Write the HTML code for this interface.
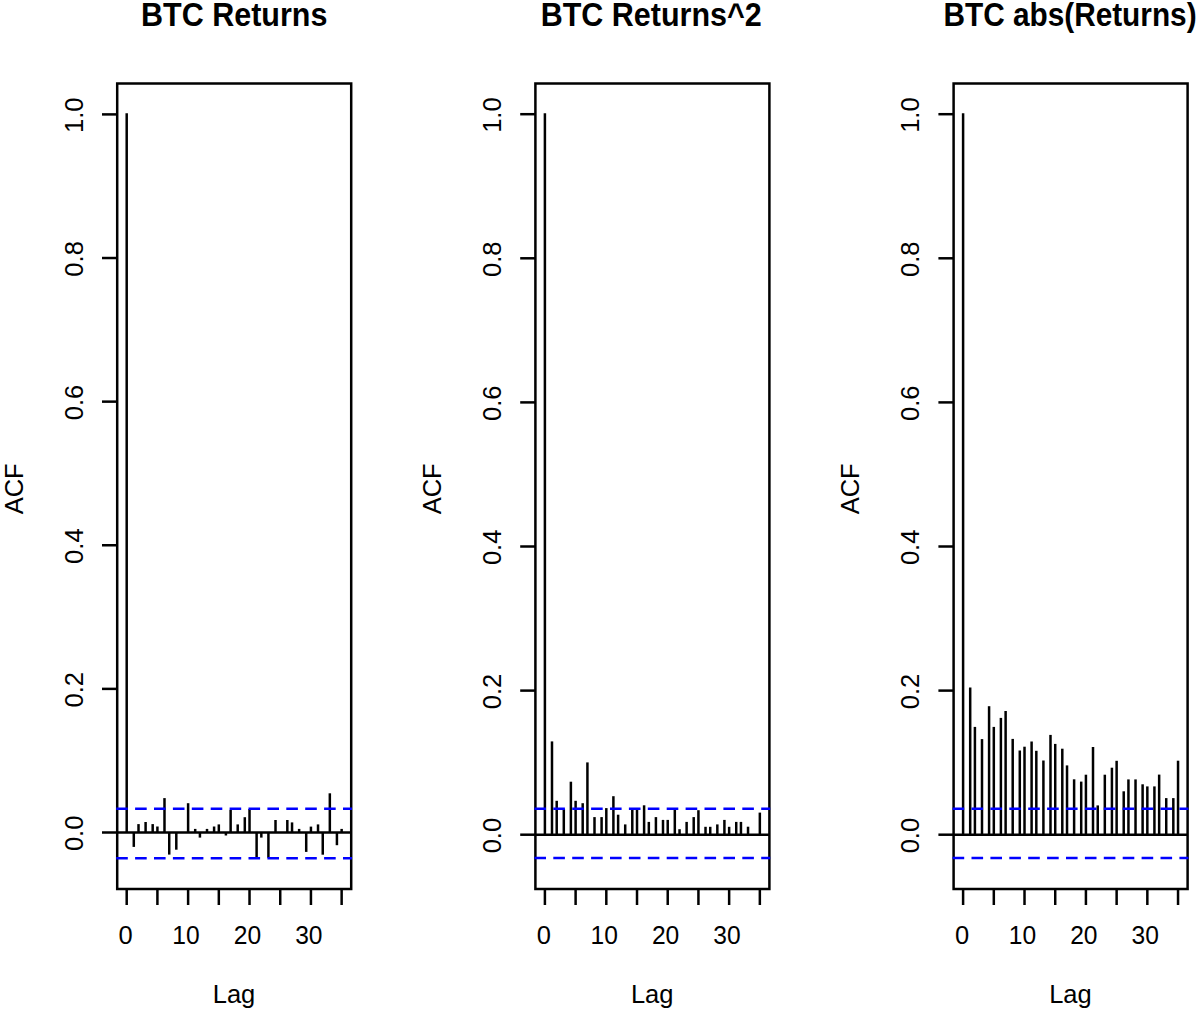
<!DOCTYPE html>
<html><head><meta charset="utf-8"><style>
html,body{margin:0;padding:0;background:#fff;}
body{width:1200px;height:1011px;overflow:hidden;}
svg{display:block;}
.t{font-family:"Liberation Sans",sans-serif;font-weight:bold;font-size:30.5px;fill:#000;}
.a{font-family:"Liberation Sans",sans-serif;font-size:25.5px;fill:#000;}
</style></head><body>
<svg width="1200" height="1011" viewBox="0 0 1200 1011">
<rect width="1200" height="1011" fill="#fff"/>
<g>
<text class="t" transform="translate(234.20,25.6) scale(1.0,1.09)" text-anchor="middle">BTC Returns</text>
<rect x="117.20" y="83.50" width="234.00" height="805.50" fill="none" stroke="#000" stroke-width="2.5"/>
<line x1="102.00" y1="832.50" x2="117.20" y2="832.50" stroke="#000" stroke-width="2.5"/>
<text class="a" transform="translate(82.50,833.40) rotate(-90)" text-anchor="middle">0.0</text>
<line x1="102.00" y1="688.88" x2="117.20" y2="688.88" stroke="#000" stroke-width="2.5"/>
<text class="a" transform="translate(82.50,689.78) rotate(-90)" text-anchor="middle">0.2</text>
<line x1="102.00" y1="545.26" x2="117.20" y2="545.26" stroke="#000" stroke-width="2.5"/>
<text class="a" transform="translate(82.50,546.16) rotate(-90)" text-anchor="middle">0.4</text>
<line x1="102.00" y1="401.64" x2="117.20" y2="401.64" stroke="#000" stroke-width="2.5"/>
<text class="a" transform="translate(82.50,402.54) rotate(-90)" text-anchor="middle">0.6</text>
<line x1="102.00" y1="258.02" x2="117.20" y2="258.02" stroke="#000" stroke-width="2.5"/>
<text class="a" transform="translate(82.50,258.92) rotate(-90)" text-anchor="middle">0.8</text>
<line x1="102.00" y1="114.40" x2="117.20" y2="114.40" stroke="#000" stroke-width="2.5"/>
<text class="a" transform="translate(82.50,115.30) rotate(-90)" text-anchor="middle">1.0</text>
<text class="a" transform="translate(23.00,488.80) rotate(-90)" text-anchor="middle">ACF</text>
<line x1="126.70" y1="889.00" x2="126.70" y2="905.00" stroke="#000" stroke-width="2.5"/>
<line x1="157.41" y1="889.00" x2="157.41" y2="905.00" stroke="#000" stroke-width="2.5"/>
<line x1="188.11" y1="889.00" x2="188.11" y2="905.00" stroke="#000" stroke-width="2.5"/>
<line x1="218.82" y1="889.00" x2="218.82" y2="905.00" stroke="#000" stroke-width="2.5"/>
<line x1="249.52" y1="889.00" x2="249.52" y2="905.00" stroke="#000" stroke-width="2.5"/>
<line x1="280.23" y1="889.00" x2="280.23" y2="905.00" stroke="#000" stroke-width="2.5"/>
<line x1="310.94" y1="889.00" x2="310.94" y2="905.00" stroke="#000" stroke-width="2.5"/>
<line x1="341.64" y1="889.00" x2="341.64" y2="905.00" stroke="#000" stroke-width="2.5"/>
<text class="a" x="125.70" y="943.5" text-anchor="middle">0</text>
<text class="a" transform="translate(186.01,943.5) scale(0.965,1)" text-anchor="middle">10</text>
<text class="a" transform="translate(247.42,943.5) scale(0.965,1)" text-anchor="middle">20</text>
<text class="a" transform="translate(308.84,943.5) scale(0.965,1)" text-anchor="middle">30</text>
<text class="a" x="234.00" y="1003.3" text-anchor="middle">Lag</text>
<line x1="126.70" y1="832.50" x2="126.70" y2="113.20" stroke="#000" stroke-width="2.5"/>
<line x1="133.79" y1="832.50" x2="133.79" y2="846.90" stroke="#000" stroke-width="2.5"/>
<line x1="138.51" y1="832.50" x2="138.51" y2="824.10" stroke="#000" stroke-width="2.5"/>
<line x1="145.60" y1="832.50" x2="145.60" y2="822.00" stroke="#000" stroke-width="2.5"/>
<line x1="152.68" y1="832.50" x2="152.68" y2="824.10" stroke="#000" stroke-width="2.5"/>
<line x1="157.41" y1="832.50" x2="157.41" y2="826.50" stroke="#000" stroke-width="2.5"/>
<line x1="164.49" y1="832.50" x2="164.49" y2="798.10" stroke="#000" stroke-width="2.5"/>
<line x1="169.22" y1="832.50" x2="169.22" y2="854.60" stroke="#000" stroke-width="2.5"/>
<line x1="176.30" y1="832.50" x2="176.30" y2="849.70" stroke="#000" stroke-width="2.5"/>
<line x1="188.11" y1="832.50" x2="188.11" y2="803.20" stroke="#000" stroke-width="2.5"/>
<line x1="195.20" y1="832.50" x2="195.20" y2="828.90" stroke="#000" stroke-width="2.5"/>
<line x1="199.92" y1="832.50" x2="199.92" y2="837.60" stroke="#000" stroke-width="2.5"/>
<line x1="207.01" y1="832.50" x2="207.01" y2="828.90" stroke="#000" stroke-width="2.5"/>
<line x1="214.09" y1="832.50" x2="214.09" y2="826.50" stroke="#000" stroke-width="2.5"/>
<line x1="218.82" y1="832.50" x2="218.82" y2="824.40" stroke="#000" stroke-width="2.5"/>
<line x1="225.90" y1="832.50" x2="225.90" y2="835.50" stroke="#000" stroke-width="2.5"/>
<line x1="230.63" y1="832.50" x2="230.63" y2="809.90" stroke="#000" stroke-width="2.5"/>
<line x1="237.71" y1="832.50" x2="237.71" y2="824.40" stroke="#000" stroke-width="2.5"/>
<line x1="244.80" y1="832.50" x2="244.80" y2="817.20" stroke="#000" stroke-width="2.5"/>
<line x1="249.52" y1="832.50" x2="249.52" y2="809.00" stroke="#000" stroke-width="2.5"/>
<line x1="256.61" y1="832.50" x2="256.61" y2="857.80" stroke="#000" stroke-width="2.5"/>
<line x1="261.33" y1="832.50" x2="261.33" y2="837.60" stroke="#000" stroke-width="2.5"/>
<line x1="268.42" y1="832.50" x2="268.42" y2="857.80" stroke="#000" stroke-width="2.5"/>
<line x1="275.51" y1="832.50" x2="275.51" y2="820.00" stroke="#000" stroke-width="2.5"/>
<line x1="287.32" y1="832.50" x2="287.32" y2="820.00" stroke="#000" stroke-width="2.5"/>
<line x1="292.04" y1="832.50" x2="292.04" y2="822.40" stroke="#000" stroke-width="2.5"/>
<line x1="299.13" y1="832.50" x2="299.13" y2="828.90" stroke="#000" stroke-width="2.5"/>
<line x1="306.21" y1="832.50" x2="306.21" y2="851.90" stroke="#000" stroke-width="2.5"/>
<line x1="310.94" y1="832.50" x2="310.94" y2="826.60" stroke="#000" stroke-width="2.5"/>
<line x1="318.02" y1="832.50" x2="318.02" y2="824.40" stroke="#000" stroke-width="2.5"/>
<line x1="322.75" y1="832.50" x2="322.75" y2="854.70" stroke="#000" stroke-width="2.5"/>
<line x1="329.83" y1="832.50" x2="329.83" y2="793.30" stroke="#000" stroke-width="2.5"/>
<line x1="336.92" y1="832.50" x2="336.92" y2="845.20" stroke="#000" stroke-width="2.5"/>
<line x1="341.64" y1="832.50" x2="341.64" y2="828.90" stroke="#000" stroke-width="2.5"/>
<line x1="117.20" y1="832.50" x2="351.20" y2="832.50" stroke="#000" stroke-width="2.5"/>
<path d="M116.20 808.80H127.80 M135.10 808.80H146.70 M154.00 808.80H165.60 M172.90 808.80H184.50 M191.80 808.80H203.40 M210.70 808.80H222.30 M229.60 808.80H241.20 M248.50 808.80H260.10 M267.40 808.80H279.00 M286.30 808.80H297.90 M305.20 808.80H316.80 M324.10 808.80H335.70 M343.00 808.80H352.00" stroke="#0000ff" stroke-width="2.5" fill="none"/>
<path d="M116.20 858.20H127.80 M135.10 858.20H146.70 M154.00 858.20H165.60 M172.90 858.20H184.50 M191.80 858.20H203.40 M210.70 858.20H222.30 M229.60 858.20H241.20 M248.50 858.20H260.10 M267.40 858.20H279.00 M286.30 858.20H297.90 M305.20 858.20H316.80 M324.10 858.20H335.70 M343.00 858.20H352.00" stroke="#0000ff" stroke-width="2.5" fill="none"/>
</g>
<g>
<text class="t" transform="translate(651.20,25.6) scale(1.0,1.09)" text-anchor="middle">BTC Returns^2</text>
<rect x="535.40" y="83.50" width="234.00" height="805.50" fill="none" stroke="#000" stroke-width="2.5"/>
<line x1="520.20" y1="834.70" x2="535.40" y2="834.70" stroke="#000" stroke-width="2.5"/>
<text class="a" transform="translate(500.70,835.60) rotate(-90)" text-anchor="middle">0.0</text>
<line x1="520.20" y1="690.60" x2="535.40" y2="690.60" stroke="#000" stroke-width="2.5"/>
<text class="a" transform="translate(500.70,691.50) rotate(-90)" text-anchor="middle">0.2</text>
<line x1="520.20" y1="546.50" x2="535.40" y2="546.50" stroke="#000" stroke-width="2.5"/>
<text class="a" transform="translate(500.70,547.40) rotate(-90)" text-anchor="middle">0.4</text>
<line x1="520.20" y1="402.40" x2="535.40" y2="402.40" stroke="#000" stroke-width="2.5"/>
<text class="a" transform="translate(500.70,403.30) rotate(-90)" text-anchor="middle">0.6</text>
<line x1="520.20" y1="258.30" x2="535.40" y2="258.30" stroke="#000" stroke-width="2.5"/>
<text class="a" transform="translate(500.70,259.20) rotate(-90)" text-anchor="middle">0.8</text>
<line x1="520.20" y1="114.20" x2="535.40" y2="114.20" stroke="#000" stroke-width="2.5"/>
<text class="a" transform="translate(500.70,115.10) rotate(-90)" text-anchor="middle">1.0</text>
<text class="a" transform="translate(441.20,488.80) rotate(-90)" text-anchor="middle">ACF</text>
<line x1="544.90" y1="889.00" x2="544.90" y2="905.00" stroke="#000" stroke-width="2.5"/>
<line x1="575.61" y1="889.00" x2="575.61" y2="905.00" stroke="#000" stroke-width="2.5"/>
<line x1="606.31" y1="889.00" x2="606.31" y2="905.00" stroke="#000" stroke-width="2.5"/>
<line x1="637.02" y1="889.00" x2="637.02" y2="905.00" stroke="#000" stroke-width="2.5"/>
<line x1="667.72" y1="889.00" x2="667.72" y2="905.00" stroke="#000" stroke-width="2.5"/>
<line x1="698.43" y1="889.00" x2="698.43" y2="905.00" stroke="#000" stroke-width="2.5"/>
<line x1="729.14" y1="889.00" x2="729.14" y2="905.00" stroke="#000" stroke-width="2.5"/>
<line x1="759.84" y1="889.00" x2="759.84" y2="905.00" stroke="#000" stroke-width="2.5"/>
<text class="a" x="543.90" y="943.5" text-anchor="middle">0</text>
<text class="a" transform="translate(604.21,943.5) scale(0.965,1)" text-anchor="middle">10</text>
<text class="a" transform="translate(665.62,943.5) scale(0.965,1)" text-anchor="middle">20</text>
<text class="a" transform="translate(727.04,943.5) scale(0.965,1)" text-anchor="middle">30</text>
<text class="a" x="652.20" y="1003.3" text-anchor="middle">Lag</text>
<line x1="544.90" y1="834.70" x2="544.90" y2="113.20" stroke="#000" stroke-width="2.5"/>
<line x1="551.99" y1="834.70" x2="551.99" y2="741.40" stroke="#000" stroke-width="2.5"/>
<line x1="556.71" y1="834.70" x2="556.71" y2="800.80" stroke="#000" stroke-width="2.5"/>
<line x1="563.80" y1="834.70" x2="563.80" y2="808.90" stroke="#000" stroke-width="2.5"/>
<line x1="570.88" y1="834.70" x2="570.88" y2="781.70" stroke="#000" stroke-width="2.5"/>
<line x1="575.61" y1="834.70" x2="575.61" y2="800.80" stroke="#000" stroke-width="2.5"/>
<line x1="582.69" y1="834.70" x2="582.69" y2="803.20" stroke="#000" stroke-width="2.5"/>
<line x1="587.42" y1="834.70" x2="587.42" y2="762.40" stroke="#000" stroke-width="2.5"/>
<line x1="594.50" y1="834.70" x2="594.50" y2="817.10" stroke="#000" stroke-width="2.5"/>
<line x1="601.59" y1="834.70" x2="601.59" y2="817.10" stroke="#000" stroke-width="2.5"/>
<line x1="606.31" y1="834.70" x2="606.31" y2="808.10" stroke="#000" stroke-width="2.5"/>
<line x1="613.40" y1="834.70" x2="613.40" y2="796.20" stroke="#000" stroke-width="2.5"/>
<line x1="618.12" y1="834.70" x2="618.12" y2="814.70" stroke="#000" stroke-width="2.5"/>
<line x1="625.21" y1="834.70" x2="625.21" y2="824.40" stroke="#000" stroke-width="2.5"/>
<line x1="632.29" y1="834.70" x2="632.29" y2="809.50" stroke="#000" stroke-width="2.5"/>
<line x1="637.02" y1="834.70" x2="637.02" y2="809.50" stroke="#000" stroke-width="2.5"/>
<line x1="644.10" y1="834.70" x2="644.10" y2="805.30" stroke="#000" stroke-width="2.5"/>
<line x1="648.83" y1="834.70" x2="648.83" y2="821.90" stroke="#000" stroke-width="2.5"/>
<line x1="655.91" y1="834.70" x2="655.91" y2="817.10" stroke="#000" stroke-width="2.5"/>
<line x1="663.00" y1="834.70" x2="663.00" y2="819.90" stroke="#000" stroke-width="2.5"/>
<line x1="667.72" y1="834.70" x2="667.72" y2="819.90" stroke="#000" stroke-width="2.5"/>
<line x1="674.81" y1="834.70" x2="674.81" y2="809.50" stroke="#000" stroke-width="2.5"/>
<line x1="679.53" y1="834.70" x2="679.53" y2="829.20" stroke="#000" stroke-width="2.5"/>
<line x1="686.62" y1="834.70" x2="686.62" y2="821.90" stroke="#000" stroke-width="2.5"/>
<line x1="693.71" y1="834.70" x2="693.71" y2="817.10" stroke="#000" stroke-width="2.5"/>
<line x1="698.43" y1="834.70" x2="698.43" y2="810.20" stroke="#000" stroke-width="2.5"/>
<line x1="705.52" y1="834.70" x2="705.52" y2="826.80" stroke="#000" stroke-width="2.5"/>
<line x1="710.24" y1="834.70" x2="710.24" y2="826.80" stroke="#000" stroke-width="2.5"/>
<line x1="717.33" y1="834.70" x2="717.33" y2="824.40" stroke="#000" stroke-width="2.5"/>
<line x1="724.41" y1="834.70" x2="724.41" y2="819.90" stroke="#000" stroke-width="2.5"/>
<line x1="729.14" y1="834.70" x2="729.14" y2="826.80" stroke="#000" stroke-width="2.5"/>
<line x1="736.22" y1="834.70" x2="736.22" y2="821.90" stroke="#000" stroke-width="2.5"/>
<line x1="740.95" y1="834.70" x2="740.95" y2="821.90" stroke="#000" stroke-width="2.5"/>
<line x1="748.03" y1="834.70" x2="748.03" y2="826.70" stroke="#000" stroke-width="2.5"/>
<line x1="759.84" y1="834.70" x2="759.84" y2="812.60" stroke="#000" stroke-width="2.5"/>
<line x1="535.40" y1="834.70" x2="769.40" y2="834.70" stroke="#000" stroke-width="2.5"/>
<path d="M534.40 808.70H546.00 M553.30 808.70H564.90 M572.20 808.70H583.80 M591.10 808.70H602.70 M610.00 808.70H621.60 M628.90 808.70H640.50 M647.80 808.70H659.40 M666.70 808.70H678.30 M685.60 808.70H697.20 M704.50 808.70H716.10 M723.40 808.70H735.00 M742.30 808.70H753.90 M761.20 808.70H770.20" stroke="#0000ff" stroke-width="2.5" fill="none"/>
<path d="M534.40 858.10H546.00 M553.30 858.10H564.90 M572.20 858.10H583.80 M591.10 858.10H602.70 M610.00 858.10H621.60 M628.90 858.10H640.50 M647.80 858.10H659.40 M666.70 858.10H678.30 M685.60 858.10H697.20 M704.50 858.10H716.10 M723.40 858.10H735.00 M742.30 858.10H753.90 M761.20 858.10H770.20" stroke="#0000ff" stroke-width="2.5" fill="none"/>
</g>
<g>
<text class="t" transform="translate(1070.00,25.6) scale(0.977,1.09)" text-anchor="middle">BTC abs(Returns)</text>
<rect x="953.60" y="83.50" width="234.00" height="805.50" fill="none" stroke="#000" stroke-width="2.5"/>
<line x1="938.40" y1="834.70" x2="953.60" y2="834.70" stroke="#000" stroke-width="2.5"/>
<text class="a" transform="translate(918.90,835.60) rotate(-90)" text-anchor="middle">0.0</text>
<line x1="938.40" y1="690.60" x2="953.60" y2="690.60" stroke="#000" stroke-width="2.5"/>
<text class="a" transform="translate(918.90,691.50) rotate(-90)" text-anchor="middle">0.2</text>
<line x1="938.40" y1="546.50" x2="953.60" y2="546.50" stroke="#000" stroke-width="2.5"/>
<text class="a" transform="translate(918.90,547.40) rotate(-90)" text-anchor="middle">0.4</text>
<line x1="938.40" y1="402.40" x2="953.60" y2="402.40" stroke="#000" stroke-width="2.5"/>
<text class="a" transform="translate(918.90,403.30) rotate(-90)" text-anchor="middle">0.6</text>
<line x1="938.40" y1="258.30" x2="953.60" y2="258.30" stroke="#000" stroke-width="2.5"/>
<text class="a" transform="translate(918.90,259.20) rotate(-90)" text-anchor="middle">0.8</text>
<line x1="938.40" y1="114.20" x2="953.60" y2="114.20" stroke="#000" stroke-width="2.5"/>
<text class="a" transform="translate(918.90,115.10) rotate(-90)" text-anchor="middle">1.0</text>
<text class="a" transform="translate(859.40,488.80) rotate(-90)" text-anchor="middle">ACF</text>
<line x1="963.10" y1="889.00" x2="963.10" y2="905.00" stroke="#000" stroke-width="2.5"/>
<line x1="993.81" y1="889.00" x2="993.81" y2="905.00" stroke="#000" stroke-width="2.5"/>
<line x1="1024.51" y1="889.00" x2="1024.51" y2="905.00" stroke="#000" stroke-width="2.5"/>
<line x1="1055.22" y1="889.00" x2="1055.22" y2="905.00" stroke="#000" stroke-width="2.5"/>
<line x1="1085.92" y1="889.00" x2="1085.92" y2="905.00" stroke="#000" stroke-width="2.5"/>
<line x1="1116.63" y1="889.00" x2="1116.63" y2="905.00" stroke="#000" stroke-width="2.5"/>
<line x1="1147.34" y1="889.00" x2="1147.34" y2="905.00" stroke="#000" stroke-width="2.5"/>
<line x1="1178.04" y1="889.00" x2="1178.04" y2="905.00" stroke="#000" stroke-width="2.5"/>
<text class="a" x="962.10" y="943.5" text-anchor="middle">0</text>
<text class="a" transform="translate(1022.41,943.5) scale(0.965,1)" text-anchor="middle">10</text>
<text class="a" transform="translate(1083.82,943.5) scale(0.965,1)" text-anchor="middle">20</text>
<text class="a" transform="translate(1145.24,943.5) scale(0.965,1)" text-anchor="middle">30</text>
<text class="a" x="1070.40" y="1003.3" text-anchor="middle">Lag</text>
<line x1="963.10" y1="834.70" x2="963.10" y2="113.20" stroke="#000" stroke-width="2.5"/>
<line x1="970.19" y1="834.70" x2="970.19" y2="687.50" stroke="#000" stroke-width="2.5"/>
<line x1="974.91" y1="834.70" x2="974.91" y2="726.90" stroke="#000" stroke-width="2.5"/>
<line x1="982.00" y1="834.70" x2="982.00" y2="739.10" stroke="#000" stroke-width="2.5"/>
<line x1="989.08" y1="834.70" x2="989.08" y2="706.20" stroke="#000" stroke-width="2.5"/>
<line x1="993.81" y1="834.70" x2="993.81" y2="726.90" stroke="#000" stroke-width="2.5"/>
<line x1="1000.89" y1="834.70" x2="1000.89" y2="717.90" stroke="#000" stroke-width="2.5"/>
<line x1="1005.62" y1="834.70" x2="1005.62" y2="711.00" stroke="#000" stroke-width="2.5"/>
<line x1="1012.70" y1="834.70" x2="1012.70" y2="738.90" stroke="#000" stroke-width="2.5"/>
<line x1="1019.79" y1="834.70" x2="1019.79" y2="750.50" stroke="#000" stroke-width="2.5"/>
<line x1="1024.51" y1="834.70" x2="1024.51" y2="746.70" stroke="#000" stroke-width="2.5"/>
<line x1="1031.60" y1="834.70" x2="1031.60" y2="741.50" stroke="#000" stroke-width="2.5"/>
<line x1="1036.32" y1="834.70" x2="1036.32" y2="750.80" stroke="#000" stroke-width="2.5"/>
<line x1="1043.41" y1="834.70" x2="1043.41" y2="760.50" stroke="#000" stroke-width="2.5"/>
<line x1="1050.49" y1="834.70" x2="1050.49" y2="734.90" stroke="#000" stroke-width="2.5"/>
<line x1="1055.22" y1="834.70" x2="1055.22" y2="743.90" stroke="#000" stroke-width="2.5"/>
<line x1="1062.30" y1="834.70" x2="1062.30" y2="748.70" stroke="#000" stroke-width="2.5"/>
<line x1="1067.03" y1="834.70" x2="1067.03" y2="765.40" stroke="#000" stroke-width="2.5"/>
<line x1="1074.11" y1="834.70" x2="1074.11" y2="779.30" stroke="#000" stroke-width="2.5"/>
<line x1="1081.20" y1="834.70" x2="1081.20" y2="781.60" stroke="#000" stroke-width="2.5"/>
<line x1="1085.92" y1="834.70" x2="1085.92" y2="774.70" stroke="#000" stroke-width="2.5"/>
<line x1="1093.01" y1="834.70" x2="1093.01" y2="747.00" stroke="#000" stroke-width="2.5"/>
<line x1="1097.73" y1="834.70" x2="1097.73" y2="805.40" stroke="#000" stroke-width="2.5"/>
<line x1="1104.82" y1="834.70" x2="1104.82" y2="774.70" stroke="#000" stroke-width="2.5"/>
<line x1="1111.91" y1="834.70" x2="1111.91" y2="767.70" stroke="#000" stroke-width="2.5"/>
<line x1="1116.63" y1="834.70" x2="1116.63" y2="760.80" stroke="#000" stroke-width="2.5"/>
<line x1="1123.72" y1="834.70" x2="1123.72" y2="791.30" stroke="#000" stroke-width="2.5"/>
<line x1="1128.44" y1="834.70" x2="1128.44" y2="779.40" stroke="#000" stroke-width="2.5"/>
<line x1="1135.53" y1="834.70" x2="1135.53" y2="779.40" stroke="#000" stroke-width="2.5"/>
<line x1="1142.61" y1="834.70" x2="1142.61" y2="784.30" stroke="#000" stroke-width="2.5"/>
<line x1="1147.34" y1="834.70" x2="1147.34" y2="786.40" stroke="#000" stroke-width="2.5"/>
<line x1="1154.42" y1="834.70" x2="1154.42" y2="786.40" stroke="#000" stroke-width="2.5"/>
<line x1="1159.15" y1="834.70" x2="1159.15" y2="774.60" stroke="#000" stroke-width="2.5"/>
<line x1="1166.23" y1="834.70" x2="1166.23" y2="798.10" stroke="#000" stroke-width="2.5"/>
<line x1="1173.32" y1="834.70" x2="1173.32" y2="798.10" stroke="#000" stroke-width="2.5"/>
<line x1="1178.04" y1="834.70" x2="1178.04" y2="760.70" stroke="#000" stroke-width="2.5"/>
<line x1="953.60" y1="834.70" x2="1187.60" y2="834.70" stroke="#000" stroke-width="2.5"/>
<path d="M952.60 808.80H964.20 M971.50 808.80H983.10 M990.40 808.80H1002.00 M1009.30 808.80H1020.90 M1028.20 808.80H1039.80 M1047.10 808.80H1058.70 M1066.00 808.80H1077.60 M1084.90 808.80H1096.50 M1103.80 808.80H1115.40 M1122.70 808.80H1134.30 M1141.60 808.80H1153.20 M1160.50 808.80H1172.10 M1179.40 808.80H1188.40" stroke="#0000ff" stroke-width="2.5" fill="none"/>
<path d="M952.60 858.10H964.20 M971.50 858.10H983.10 M990.40 858.10H1002.00 M1009.30 858.10H1020.90 M1028.20 858.10H1039.80 M1047.10 858.10H1058.70 M1066.00 858.10H1077.60 M1084.90 858.10H1096.50 M1103.80 858.10H1115.40 M1122.70 858.10H1134.30 M1141.60 858.10H1153.20 M1160.50 858.10H1172.10 M1179.40 858.10H1188.40" stroke="#0000ff" stroke-width="2.5" fill="none"/>
</g>
</svg>
</body></html>
